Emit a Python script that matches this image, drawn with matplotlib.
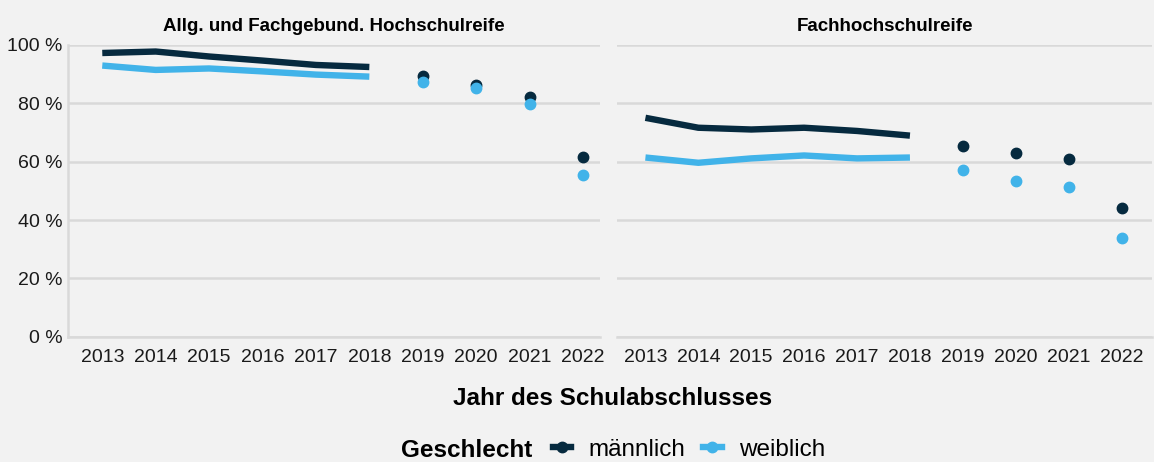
import matplotlib.pyplot as plt
from matplotlib.lines import Line2D
from matplotlib.ticker import FuncFormatter

plt.rcParams['font.family'] = ['Liberation Sans', 'DejaVu Sans']

# --- Daten ---
years_line = [2013, 2014, 2015, 2016, 2017, 2018]
years_dots = [2019, 2020, 2021, 2022]
years_all = years_line + years_dots

panels = ["Allg. und Fachgebund. Hochschulreife", "Fachhochschulreife"]

# Allg. und Fachgebund. Hochschulreife
hsr_m_line = [97.2, 97.7, 96.0, 94.6, 93.1, 92.4]
hsr_w_line = [92.9, 91.4, 91.9, 90.9, 89.8, 89.1]
hsr_m_dots = [89.2, 86.4, 82.0, 61.6]
hsr_w_dots = [87.1, 85.1, 79.7, 55.4]

# Fachhochschulreife
fhr_m_line = [75.0, 71.6, 71.0, 71.6, 70.5, 68.9]
fhr_w_line = [61.4, 59.6, 61.1, 62.1, 61.1, 61.4]
fhr_m_dots = [65.5, 62.9, 60.8, 44.1]
fhr_w_dots = [57.1, 53.4, 51.4, 34.0]

data = [
    (hsr_m_line, hsr_w_line, hsr_m_dots, hsr_w_dots),
    (fhr_m_line, fhr_w_line, fhr_m_dots, fhr_w_dots),
]

c_m = "#062a3f"
c_w = "#41b3e9"
bg = "#f2f2f2"
grid_c = "#d9d9d9"

fig = plt.figure(figsize=(11.54, 4.62), dpi=100, facecolor=bg)
ax1 = fig.add_axes([0.059, 0.271, 0.461, 0.632])
ax2 = fig.add_axes([0.535, 0.271, 0.463, 0.632])
xlims = [(2012.36, 2022.32), (2012.47, 2022.57)]

for i, (ax, title) in enumerate(zip([ax1, ax2], panels)):
    m_line, w_line, m_dots, w_dots = data[i]
    ax.set_facecolor(bg)
    ax.plot(years_line, m_line, color=c_m, lw=4.6, solid_capstyle='butt', zorder=3)
    ax.plot(years_line, w_line, color=c_w, lw=4.6, solid_capstyle='butt', zorder=3)
    ax.plot(years_dots, m_dots, 'o', color=c_m, ms=7.5, zorder=3)
    ax.plot(years_dots, w_dots, 'o', color=c_w, ms=7.5, zorder=4)

    ax.set_ylim(0, 100)
    ax.set_xlim(*xlims[i])
    ax.set_yticks([0, 20, 40, 60, 80, 100])
    ax.set_xticks(years_all)
    ax.yaxis.set_major_formatter(FuncFormatter(lambda v, p: f"{v:.0f} %"))
    ax.grid(axis='y', color=grid_c, lw=1.8)
    ax.set_axisbelow(True)
    ax.tick_params(length=0, labelsize=14, colors="#1a1a1a")
    ax.tick_params(axis='x', pad=9)
    ax.tick_params(axis='y', pad=4)
    for s in ax.spines.values():
        s.set_visible(False)
    ax.spines['bottom'].set_visible(True)
    ax.spines['bottom'].set_color(grid_c)
    ax.spines['bottom'].set_linewidth(1.8)
    ax.set_title(title, fontsize=13.5, fontweight='bold', pad=10)

ax1.spines['left'].set_visible(True)
ax1.spines['left'].set_color(grid_c)
ax1.spines['left'].set_linewidth(1.8)
ax2.tick_params(axis='y', labelleft=False)

fig.text(0.531, 0.138, "Jahr des Schulabschlusses", ha='center', va='center',
         fontsize=17.5, fontweight='bold')

fig.text(0.461, 0.025, "Geschlecht", ha='right', va='center',
         fontsize=17.5, fontweight='bold')
handles = [
    Line2D([], [], color=c_m, lw=4.6, marker='o', ms=7.5),
    Line2D([], [], color=c_w, lw=4.6, marker='o', ms=7.5),
]
fig.legend(handles, ["männlich", "weiblich"], ncol=2, loc='center',
           bbox_to_anchor=(0.597, 0.027), frameon=False, fontsize=17.5,
           handlelength=0.75, handletextpad=0.7, columnspacing=0.75)

fig.savefig("out.png", dpi=100, facecolor=bg)
